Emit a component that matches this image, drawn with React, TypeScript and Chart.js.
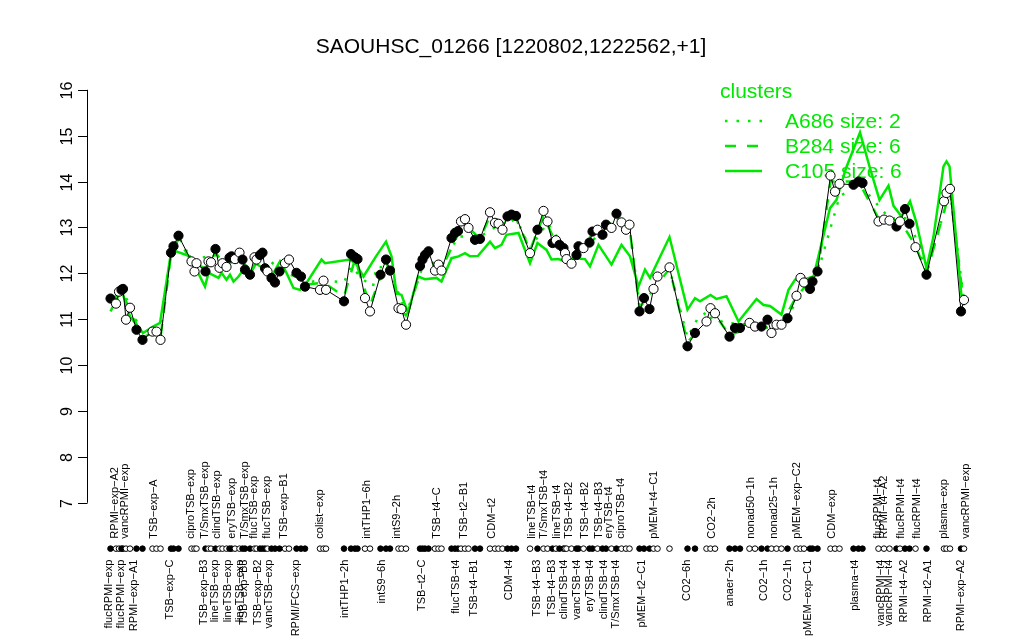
import React, { useEffect, useRef } from 'react';
import { Chart, registerables } from 'chart.js';

Chart.register(...registerables);

const TITLE = 'SAOUHSC_01266 [1220802,1222562,+1]';
const LEGEND_TITLE = 'clusters';
const LEGEND_LABELS = ['A686 size: 2', 'B284 size: 6', 'C105 size: 6'];
const Y_TICKS = [7, 8, 9, 10, 11, 12, 13, 14, 15, 16];

// sample positions along the x axis (sample slots, with gaps between groups)
const samplePos = [
  0.9, 2.0, 2.6, 3.1, 3.4, 4.0, 4.8, 6.1, 7.3, 9.3, 10.1, 10.9, 13.0, 13.5, 14.5,
  17.1, 17.7, 18.1, 19.9, 20.5, 21.0, 21.9, 22.7, 23.3, 24.1, 24.7, 25.1, 25.8, 26.7,
  27.3, 27.8, 28.8, 29.7, 30.1, 30.8, 31.3, 31.8, 32.3, 33.1, 33.8, 34.7, 35.8, 36.6,
  38.1, 39.0, 39.8, 42.8, 43.5, 44.0, 47.6, 49.0, 49.8, 50.3, 51.8, 52.8, 54.9, 56.0,
  56.8, 58.5, 59.1, 60.0, 62.8, 63.3, 63.8, 64.5, 65.8, 66.5, 67.1, 69.1, 69.8, 70.4,
  71.0, 71.8, 72.5, 73.8, 74.8, 76.8, 77.8, 78.5, 79.3, 80.3, 81.1, 82.0, 84.8, 86.3,
  87.5, 88.3, 89.3, 90.0, 90.7, 91.5, 91.8, 92.1, 93.1, 94.1, 94.5, 95.5, 96.7, 97.3,
  98.3, 99.3, 100.0, 101.1, 102.1, 103.1, 104.0, 104.7, 106.7, 107.6, 108.7, 109.5,
  110.3, 112.7, 116.3, 117.8, 120.1, 120.9, 121.8, 124.7, 125.8, 126.8, 128.7, 129.8,
  131.1, 132.3, 133.1, 134.1, 135.1, 136.3, 138.1, 138.9, 139.6, 140.8, 141.3, 142.3,
  144.9, 145.8, 146.7, 149.5, 150.5, 151.3, 154.5, 155.6, 156.7, 158.1, 158.8, 159.8,
  160.7, 161.9, 164.1, 167.6, 168.1, 168.8, 171.0, 171.6,
];

const sampleVal = [
  11.45, 11.34, 11.60, 11.64, 11.66, 10.99, 11.25, 10.77, 10.55, 10.73, 10.73, 10.55, 12.45, 12.59, 12.82,
  12.26, 12.04, 12.22, 12.04, 12.26, 12.24, 12.53, 12.12, 12.22, 12.14, 12.34, 12.37, 12.31, 12.45,
  12.30, 12.08, 11.97, 12.35, 12.30, 12.40, 12.45, 12.11, 12.04, 11.90, 11.80, 12.04, 12.22, 12.30,
  12.01, 11.93, 11.71, 11.64, 11.84, 11.64, 11.39, 12.42, 12.35, 12.31, 11.46, 11.17, 11.97, 12.30,
  12.06, 11.24, 11.22, 10.88, 12.16, 12.30, 12.40, 12.48, 12.06, 12.19, 12.06, 12.77, 12.88, 12.92,
  13.13, 13.18, 12.99, 12.73, 12.75, 13.33, 13.10, 13.08, 12.95, 13.24, 13.28, 13.25, 12.44, 12.95,
  13.36, 13.13, 12.66, 12.72, 12.62, 12.55, 12.44, 12.31, 12.21, 12.40, 12.59, 12.55, 12.67, 12.91,
  12.95, 12.84, 13.06, 12.99, 13.30, 13.11, 12.95, 13.06, 11.17, 11.46, 11.22, 11.66,
  11.93, 12.13, 10.41, 10.70, 10.95, 11.24, 11.13, 10.62, 10.81, 10.81, 10.92, 10.84,
  10.84, 10.99, 10.70, 10.88, 10.88, 11.02, 11.51, 11.90, 11.80, 11.66, 11.82, 12.04,
  14.13, 13.78, 13.95, 13.93, 14.00, 13.97, 13.13, 13.17, 13.15, 13.02, 13.13, 13.40,
  13.08, 12.57, 11.97, 13.57, 13.75, 13.84, 11.17, 11.42,
];

// 1 = filled marker, 0 = open marker
const sampleFilled = [
  1, 0, 0, 1, 1, 0, 0, 1, 1, 0, 0, 0, 1, 1, 1,
  0, 0, 0, 1, 0, 0, 1, 0, 0, 0, 1, 1, 0, 0,
  1, 1, 1, 0, 0, 1, 1, 1, 0, 1, 1, 1, 0, 0,
  1, 1, 1, 0, 0, 0, 1, 1, 1, 1, 0, 0, 1, 1,
  1, 0, 0, 0, 1, 1, 1, 1, 0, 0, 0, 1, 1, 1,
  0, 0, 0, 1, 1, 0, 0, 0, 0, 1, 1, 1, 0, 1,
  0, 0, 1, 0, 1, 1, 0, 0, 0, 1, 1, 0, 1, 1,
  0, 1, 1, 0, 1, 0, 0, 0, 1, 1, 1, 0,
  0, 0, 1, 1, 0, 0, 0, 1, 1, 1, 0, 0,
  1, 1, 0, 0, 0, 1, 0, 0, 0, 1, 1, 1,
  0, 0, 0, 1, 1, 1, 0, 0, 0, 1, 0, 1,
  1, 0, 1, 0, 0, 0, 1, 0,
];

// cluster C105 (solid)
const c105Pos = [
  0.9, 3.1, 4.8, 7.4, 9.4, 10.8, 13.0, 14.0, 16.8, 19.8, 20.5, 22.5, 23.1, 24.1, 24.8,
  25.5, 26.5, 27.5, 28.8, 29.8, 31.5, 33.1, 34.8, 36.1, 37.5, 38.8, 40.1, 43.1, 43.8,
  48.8, 50.1, 51.5, 54.0, 56.0, 57.1, 58.1, 59.1, 60.4, 62.4, 63.8, 66.1, 67.1, 69.1,
  70.5, 71.8, 72.8, 74.4, 76.8, 77.8, 79.1, 80.1, 82.5, 84.8, 86.3, 88.1, 89.1, 90.5,
  91.8, 93.5, 95.8, 96.8, 98.5, 101.1, 103.1, 104.8, 106.5, 107.8, 108.8, 112.7, 116.3,
  117.8, 118.8, 120.9, 122.1, 124.1, 126.5, 130.1, 131.5, 132.8, 135.1, 136.5, 137.8,
  139.5, 141.5, 142.8, 144.8, 146.1, 148.0, 150.8, 152.8, 154.7, 156.5, 157.5, 159.1,
  160.8, 162.1, 164.1, 165.5, 167.5, 168.1, 168.7, 171.1,
];
const c105Val = [
  11.17, 11.64, 11.06, 10.70, 10.84, 10.92, 12.45, 12.48, 12.37, 11.71, 12.01, 11.90, 12.01, 11.86, 11.97,
  11.82, 11.93, 12.08, 11.93, 12.22, 12.11, 11.93, 12.26, 12.01, 11.68, 11.64, 11.79, 12.30, 12.22,
  12.30, 12.19, 11.93, 12.37, 12.69, 12.37, 11.57, 11.53, 11.14, 11.93, 11.87, 11.90, 11.82, 12.33,
  12.37, 12.44, 12.37, 12.38, 12.69, 12.55, 12.62, 12.84, 12.88, 12.22, 12.66, 12.51, 12.30, 12.31,
  12.26, 12.33, 12.31, 12.15, 12.62, 12.19, 12.62, 12.37, 11.71, 12.08, 11.90, 12.79, 11.21,
  11.46, 11.39, 11.53, 11.44, 11.50, 10.95, 11.44, 11.31, 11.29, 11.10, 11.64, 11.86,
  11.86, 11.93, 12.51, 13.42, 13.60, 14.29, 15.07, 14.29, 13.60, 13.91, 13.47, 13.24,
  13.57, 13.10, 12.11, 12.80, 14.33, 14.44, 14.33, 11.50,
];

// cluster B284 (dashed)
const b284Pos = [
  0.9, 3.1, 4.8, 7.3, 9.3, 10.9, 13.0, 14.5, 17.1, 19.9, 21.9, 24.1, 26.7, 28.8, 30.8,
  33.1, 36.6, 39.8, 43.5, 47.6, 49.8, 52.8, 56.0, 60.0, 63.8, 67.1, 70.4, 72.5, 74.8,
  76.8, 79.3, 82.0, 84.8, 87.5, 90.0, 93.1, 96.7, 100.0, 102.1, 104.7, 106.7, 109.5,
  112.7, 116.3, 120.1, 121.8, 124.7, 129.8, 135.1, 138.1, 142.3, 144.9, 150.5, 154.5,
  158.8, 161.9, 164.1, 168.8, 171.6,
];
const b284Val = [
  11.40, 11.60, 11.20, 10.60, 10.70, 10.60, 12.40, 12.75, 12.25, 12.10, 12.45, 12.15, 12.40, 12.00, 12.35,
  11.95, 12.25, 11.75, 11.80, 11.50, 12.30, 11.30, 12.25, 11.00, 12.35, 12.10, 12.85, 13.00, 12.75,
  13.25, 13.00, 13.20, 12.50, 13.25, 12.65, 12.25, 12.65, 13.00, 13.20, 13.00, 11.25, 11.65,
  12.10, 10.50, 10.95, 11.10, 10.65, 10.85, 10.90, 11.50, 12.00, 14.00, 14.00, 13.20,
  13.15, 12.60, 12.00, 13.80, 11.30,
];

// cluster A686 (dotted)
const a686Pos = [
  0.9, 3.1, 4.8, 7.3, 10.9, 13.0, 14.5, 17.1, 21.9, 25.1, 28.8, 31.3, 34.7, 39.8, 43.5,
  47.6, 49.0, 51.5, 53.4, 54.1, 56.8, 60.0, 63.8, 65.0, 67.1, 70.4, 74.8, 78.5, 82.0,
  84.8, 88.3, 93.1, 97.3, 102.1, 104.7, 106.7, 110.3, 112.7, 116.3, 118.4, 120.9, 123.4,
  127.0, 133.1, 137.0, 142.3, 146.7, 150.5, 152.9, 156.7, 160.7, 164.1, 168.8, 171.6,
];
const a686Val = [
  11.50, 11.65, 11.30, 10.65, 10.70, 12.50, 12.80, 12.30, 12.40, 12.30, 12.10, 12.40, 12.10, 11.80, 11.85,
  11.80, 12.15, 11.86, 11.71, 12.15, 12.10, 11.10, 12.30, 12.19, 12.15, 12.80, 12.80, 13.05, 13.20,
  12.55, 13.10, 12.30, 12.85, 13.20, 13.00, 11.30, 11.85, 12.10, 10.60, 11.03, 11.20, 10.92,
  10.90, 10.80, 11.20, 12.00, 13.67, 13.95, 13.67, 13.20, 13.20, 12.00, 13.80, 11.40,
];

// sample names written above the marker row
const aboveNames = [
  'RPMI−exp−A2', 'vancRPMI−exp', 'TSB−exp−A', 'ciproTSB−exp', 'T/SmxTSB−exp', 'clindTSB−exp',
  'eryTSB−exp', 'T/SmxTSB−exp', 'flucTSB−exp', 'flucTSB−exp', 'TSB−exp−B1', 'colist−exp',
  'intTHP1−6h', 'intS9−2h', 'TSB−t4−C', 'TSB−t2−B1', 'CDM−t2', 'lineTSB−t4', 'T/SmxTSB−t4',
  'lineTSB−t4', 'TSB−t4−B2', 'TSB−t4−B2', 'TSB−t4−B3', 'eryTSB−t4', 'ciproTSB−t4', 'pMEM−t4−C1',
  'CO2−2h', 'nonad50−1h', 'nonad25−1h', 'pMEM−exp−C2', 'CDM−exp', 'flucRPMI−t4', 'RPMI−t4−A2',
  'flucRPMI−t4', 'flucRPMI−t4', 'plasma−exp', 'vancRPMI−exp',
];
const abovePos = [
  1.8, 3.8, 9.5, 16.9, 19.8, 22.1, 25.1, 27.8, 29.5, 32.1, 35.5, 42.8, 52.1, 58.2, 66.1,
  71.6, 77.2, 85.1, 87.6, 90.1, 92.5, 95.8, 98.6, 100.6, 103.0, 109.5, 121.2, 129.0, 133.5,
  138.2, 145.1, 154.4, 155.6, 159.0, 162.1, 167.6, 171.9,
];

// sample names written below the marker row
const belowNames = [
  'flucRPMI−exp', 'flucRPMI−exp', 'RPMI−exp−A1', 'TSB−exp−C', 'TSB−exp−B3', 'lineTSB−exp',
  'lineTSB−exp', 'lineTSB−exp', 'TSB−exp−B3', 'TSB−exp−B2', 'vancTSB−exp', 'RPMI/FCS−exp',
  'intTHP1−2h', 'intS9−6h', 'TSB−t2−C', 'flucTSB−t4', 'TSB−t4−B1', 'CDM−t4', 'TSB−t4−B3',
  'TSB−t4−B3', 'clindTSB−t4', 'vancTSB−t4', 'eryTSB−t4', 'clindTSB−t4', 'T/SmxTSB−t4',
  'pMEM−t2−C1', 'CO2−6h', 'anaer−2h', 'CO2−1h', 'CO2−1h', 'pMEM−exp−C1', 'plasma−t4',
  'vancRPMI−t4', 'vancRPMI−t4', 'RPMI−t4−A2', 'RPMI−t2−A1', 'RPMI−exp−A2',
];
const belowPos = [
  0.6, 3.0, 5.5, 12.8, 19.6, 21.7, 24.3, 26.8, 27.6, 30.3, 32.6, 38.0, 47.8, 55.2, 63.2,
  69.9, 73.5, 80.5, 86.1, 89.1, 91.5, 94.1, 96.8, 99.5, 101.9, 107.2, 116.2, 124.8, 131.5,
  136.4, 140.3, 149.8, 155.0, 156.6, 159.6, 164.3, 171.0,
];

const MARKER_ROW_Y = 6.0;
const GREEN = '#00e800';
const FONT = '"Liberation Sans", Arial, Helvetica, sans-serif';

const pts = (xs: number[], ys: number[]) => xs.map((x, i) => ({ x, y: ys[i] }));

const decorPlugin = {
  id: 'decor',
  beforeDatasetsDraw(chart: any) {
    const { ctx, chartArea, scales } = chart;
    const ys = scales.y;
    const xs = scales.x;
    ctx.save();
    // title
    ctx.fillStyle = '#000';
    ctx.font = `21px ${FONT}`;
    ctx.textAlign = 'center';
    ctx.textBaseline = 'middle';
    ctx.fillText(TITLE, 511, 47);

    // y axis
    const x0 = chartArea.left;
    ctx.strokeStyle = '#000';
    ctx.lineWidth = 1;
    ctx.beginPath();
    ctx.moveTo(x0 + 0.5, ys.getPixelForValue(Y_TICKS[0]));
    ctx.lineTo(x0 + 0.5, ys.getPixelForValue(Y_TICKS[Y_TICKS.length - 1]));
    ctx.stroke();
    ctx.font = `16px ${FONT}`;
    for (const t of Y_TICKS) {
      const py = Math.round(ys.getPixelForValue(t)) + 0.5;
      ctx.beginPath();
      ctx.moveTo(x0 - 9, py);
      ctx.lineTo(x0 + 0.5, py);
      ctx.stroke();
      ctx.save();
      ctx.translate(x0 - 19, py);
      ctx.rotate(-Math.PI / 2);
      ctx.textAlign = 'center';
      ctx.textBaseline = 'middle';
      ctx.fillText(String(t), 0, 0);
      ctx.restore();
    }

    // sample labels
    ctx.font = `11px ${FONT}`;
    const rowPx = ys.getPixelForValue(MARKER_ROW_Y);
    aboveNames.forEach((name, i) => {
      ctx.save();
      ctx.translate(xs.getPixelForValue(abovePos[i]), rowPx - 10);
      ctx.rotate(-Math.PI / 2);
      ctx.textAlign = 'left';
      ctx.textBaseline = 'middle';
      ctx.fillText(name, 0, 0);
      ctx.restore();
    });
    belowNames.forEach((name, i) => {
      ctx.save();
      ctx.translate(xs.getPixelForValue(belowPos[i]), rowPx + 11);
      ctx.rotate(-Math.PI / 2);
      ctx.textAlign = 'right';
      ctx.textBaseline = 'middle';
      ctx.fillText(name, 0, 0);
      ctx.restore();
    });

    // legend
    ctx.fillStyle = GREEN;
    ctx.strokeStyle = GREEN;
    ctx.font = `21px ${FONT}`;
    ctx.textAlign = 'left';
    ctx.textBaseline = 'middle';
    ctx.fillText(LEGEND_TITLE, 720, 92);
    const dashes = [[2.5, 9], [11, 11], []];
    LEGEND_LABELS.forEach((lab, i) => {
      const ly = 121 + i * 25;
      ctx.lineWidth = 2.5;
      ctx.setLineDash(dashes[i]);
      ctx.beginPath();
      ctx.moveTo(725, ly);
      ctx.lineTo(762, ly);
      ctx.stroke();
      ctx.setLineDash([]);
      ctx.fillText(lab, 785, ly + 1);
    });
    ctx.restore();
  },
};

export default function App() {
  const ref = useRef<HTMLCanvasElement | null>(null);
  useEffect(() => {
    if (!ref.current) return;
    const chart = new Chart(ref.current, {
      type: 'line',
      data: {
        datasets: [
          {
            data: pts(samplePos, sampleVal),
            borderColor: '#000',
            borderWidth: 1,
            pointRadius: 4.6,
            pointBorderWidth: 1,
            pointBorderColor: '#000',
            pointBackgroundColor: sampleFilled.map((f) => (f ? '#000' : '#fff')),
            tension: 0,
          },
          {
            data: samplePos.map((x) => ({ x, y: MARKER_ROW_Y })),
            showLine: false,
            pointRadius: 2.8,
            pointBorderWidth: 1,
            pointBorderColor: '#000',
            pointBackgroundColor: sampleFilled.map((f) => (f ? '#000' : '#fff')),
          },
          {
            data: pts(c105Pos, c105Val),
            borderColor: GREEN,
            borderWidth: 2.5,
            pointRadius: 0,
            tension: 0,
          },
          {
            data: pts(b284Pos, b284Val),
            borderColor: GREEN,
            borderWidth: 2.5,
            borderDash: [11, 11],
            pointRadius: 0,
            tension: 0,
          },
          {
            data: pts(a686Pos, a686Val),
            borderColor: GREEN,
            borderWidth: 2.5,
            borderDash: [2.5, 9],
            pointRadius: 0,
            tension: 0,
          },
        ],
      },
      options: {
        animation: false,
        responsive: true,
        maintainAspectRatio: false,
        layout: { padding: { left: 87, right: 39, top: 76, bottom: 73 } },
        plugins: { legend: { display: false }, tooltip: { enabled: false }, title: { display: false } },
        scales: {
          x: { type: 'linear', min: -3.8, max: 175.8, display: false },
          y: { type: 'linear', min: 5.6, max: 16.3, display: false },
        },
      },
      plugins: [decorPlugin],
    });
    return () => chart.destroy();
  }, []);
  return (
    <div style={{ position: 'fixed', left: 0, top: 0, width: 1024, height: 640, background: '#fff' }}>
      <canvas ref={ref} />
    </div>
  );
}
